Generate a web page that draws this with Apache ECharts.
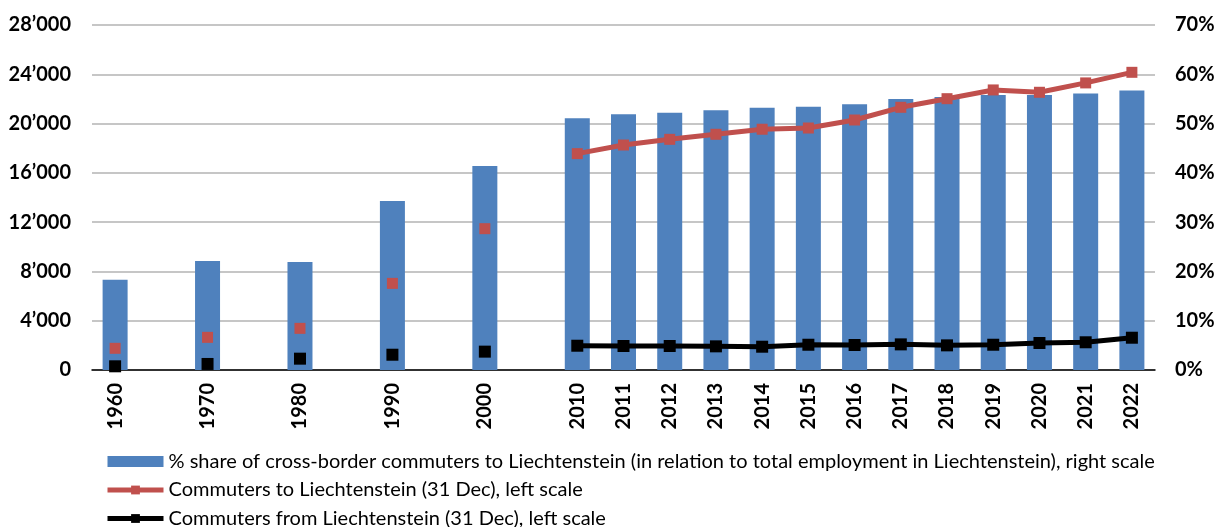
<!DOCTYPE html>
<html>
<head>
<meta charset="utf-8">
<script src="https://cdn.jsdelivr.net/npm/echarts@6/dist/echarts.min.js"></script>
<style>
  html, body { margin: 0; padding: 0; background: #fff; }
  #chart { width: 1222px; height: 527px; }
</style>
</head>
<body>
<div id="chart"></div>
<script>
// empty slots keep the decade spacing twice as wide as the yearly one
const years = ['1960', '', '1970', '', '1980', '', '1990', '', '2000', '',
  '2010', '2011', '2012', '2013', '2014', '2015', '2016', '2017', '2018', '2019', '2020', '2021', '2022']
const sharePct = [18.3, null, 22.1, null, 21.9, null, 34.3, null, 41.4, null,
  51.1, 51.9, 52.2, 52.7, 53.2, 53.4, 53.9, 55.0, 55.4, 55.8, 55.8, 56.1, 56.7]
const commutersTo = [1760, null, 2650, null, 3380, null, 7030, null, 11470, null,
  17560, 18260, 18720, 19130, 19540, 19640, 20290, 21320, 22020, 22730, 22540, 23300, 24160]
const commutersFrom = [300, null, 490, null, 920, null, 1240, null, 1490, null,
  1970, 1950, 1950, 1920, 1890, 2050, 2030, 2080, 2000, 2050, 2190, 2250, 2620]

const fontFamily = 'Lato'
const gridColor = '#c6c6c6'
const nameShare = '% share of cross-border commuters to Liechtenstein (in relation to total employment in Liechtenstein), right scale'
const nameTo = 'Commuters to Liechtenstein (31 Dec), left scale'
const nameFrom = 'Commuters from Liechtenstein (31 Dec), left scale'

const chart = echarts.init(document.getElementById('chart'))

function thousands (v) {
  return String(v).replace(/\B(?=(\d{3})+(?!\d))/g, '\u2019')
}

const options = {
  animation: false,
  textStyle: { fontFamily: fontFamily },
  grid: {
    left: 92,
    right: 67,
    top: 25,
    bottom: 157
  },
  legend: {
    orient: 'vertical',
    left: 100,
    top: 446,
    height: 100,
    itemWidth: 56,
    itemHeight: 11,
    itemGap: 7.5,
    textStyle: {
      fontFamily: fontFamily,
      fontSize: 20,
      lineHeight: 21,
      color: '#000'
    },
    data: [
      { name: nameShare, icon: 'rect' },
      { name: nameTo, lineStyle: { width: 5 } },
      { name: nameFrom, lineStyle: { width: 5 } }
    ]
  },
  xAxis: [{
    type: 'category',
    data: years,
    axisLine: {
      show: true,
      lineStyle: { color: '#000', width: 1.5 }
    },
    axisTick: { show: false },
    axisLabel: {
      interval: 0,
      rotate: 90,
      margin: 13,
      fontSize: 20,
      fontWeight: 'bold',
      color: '#000'
    }
  }],
  yAxis: [{
    type: 'value',
    min: 0,
    max: 28000,
    interval: 4000,
    axisLine: { show: false },
    axisTick: { show: false },
    axisLabel: {
      margin: 21,
      fontSize: 20,
      fontWeight: 'bold',
      color: '#000',
      formatter: thousands
    },
    splitLine: {
      show: true,
      lineStyle: { color: gridColor, width: 2 }
    }
  }, {
    type: 'value',
    min: 0,
    max: 70,
    interval: 10,
    axisLine: { show: false },
    axisTick: { show: false },
    axisLabel: {
      margin: 20,
      fontSize: 20,
      fontWeight: 'bold',
      color: '#000',
      formatter: '{value}%'
    },
    splitLine: { show: false }
  }],
  series: [{
    name: nameShare,
    type: 'bar',
    yAxisIndex: 1,
    barWidth: 25,
    itemStyle: { color: '#4f81bd' },
    data: sharePct
  }, {
    name: nameTo,
    type: 'line',
    yAxisIndex: 0,
    symbol: 'rect',
    symbolSize: 11,
    showSymbol: true,
    connectNulls: false,
    itemStyle: { color: '#c0504d' },
    lineStyle: { color: '#c0504d', width: 5 },
    data: commutersTo
  }, {
    name: nameFrom,
    type: 'line',
    yAxisIndex: 0,
    symbol: 'rect',
    symbolSize: 12,
    showSymbol: true,
    connectNulls: false,
    itemStyle: { color: '#000' },
    lineStyle: { color: '#000', width: 5 },
    data: commutersFrom
  }]
}

chart.setOption(options)
</script>
</body>
</html>
